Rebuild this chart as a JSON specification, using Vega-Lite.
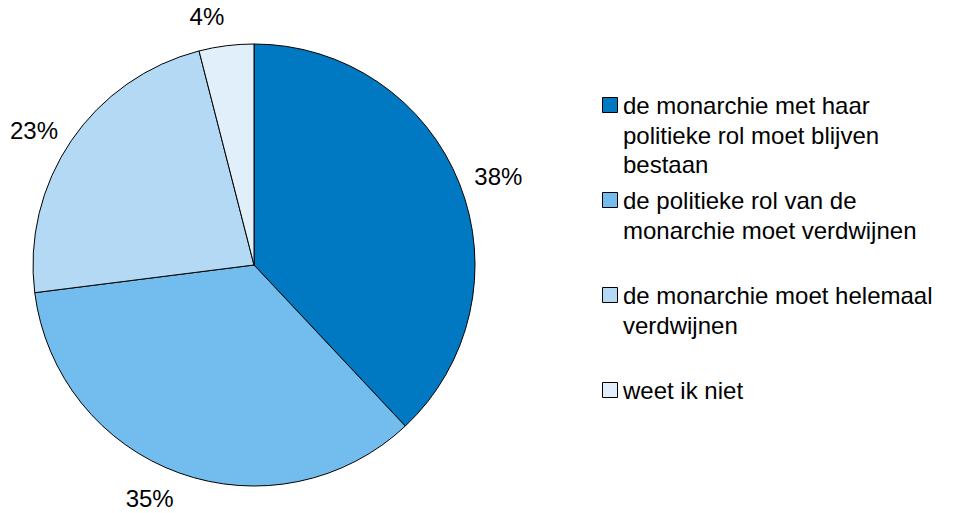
{
  "$schema": "https://vega.github.io/schema/vega-lite/v6.json",
  "autosize": "none",
  "width": 508,
  "height": 490,
  "padding": {"top": 20, "left": 0, "right": 446, "bottom": 3},
  "background": "white",
  "config": {"view": {"stroke": null}, "font": "Liberation Sans"},
  "data": {
    "values": [
      {"answer": "de monarchie met haar|politieke rol moet blijven|bestaan", "pct": 38, "order": 1, "label": "38%"},
      {"answer": "de politieke rol van de|monarchie moet verdwijnen", "pct": 35, "order": 2, "label": "35%"},
      {"answer": "de monarchie moet helemaal|verdwijnen", "pct": 23, "order": 3, "label": "23%"},
      {"answer": "weet ik niet", "pct": 4, "order": 4, "label": "4%"}
    ]
  },
  "encoding": {
    "theta": {"field": "pct", "type": "quantitative", "stack": true},
    "order": {"field": "order", "type": "quantitative"}
  },
  "layer": [
    {
      "mark": {"type": "arc", "outerRadius": 221, "stroke": "black", "strokeWidth": 1},
      "encoding": {
        "color": {
          "field": "answer",
          "type": "nominal",
          "scale": {
            "domain": [
              "de monarchie met haar|politieke rol moet blijven|bestaan",
              "de politieke rol van de|monarchie moet verdwijnen",
              "de monarchie moet helemaal|verdwijnen",
              "weet ik niet"
            ],
            "range": ["#0078c2", "#73bdee", "#b3d9f4", "#e1effb"]
          },
          "legend": {
            "title": null,
            "orient": "none",
            "legendX": 598,
            "legendY": 73,
            "padding": 0,
            "symbolType": "square",
            "symbolSize": 225,
            "symbolStrokeColor": "black",
            "symbolStrokeWidth": 1,
            "symbolOffset": 0,
            "labelFont": "Liberation Sans",
            "labelFontSize": 24,
            "labelColor": "black",
            "labelOffset": 1,
            "labelLimit": 400,
            "labelBaseline": "alphabetic",
            "labelExpr": "split(datum.label, '|')",
            "gridAlign": "all",
            "rowPadding": 10,
            "encode": {
              "labels": {"update": {"lineHeight": {"value": 29.5}, "dy": {"value": 9}}}
            }
          }
        }
      }
    },
    {
      "mark": {
        "type": "text",
        "radius": 237,
        "fontSize": 24,
        "font": "Liberation Sans",
        "color": "black",
        "align": {"expr": "(datum.pct_start + datum.pct_end) / 2 < 50 ? 'left' : 'right'"},
        "baseline": {"expr": "(datum.pct_start + datum.pct_end) / 2 > 90 || (datum.pct_start + datum.pct_end) / 2 < 10 ? 'bottom' : ((datum.pct_start + datum.pct_end) / 2 > 40 && (datum.pct_start + datum.pct_end) / 2 < 60 ? 'top' : 'middle')"}
      },
      "encoding": {"text": {"field": "label", "type": "nominal"}}
    }
  ]
}
